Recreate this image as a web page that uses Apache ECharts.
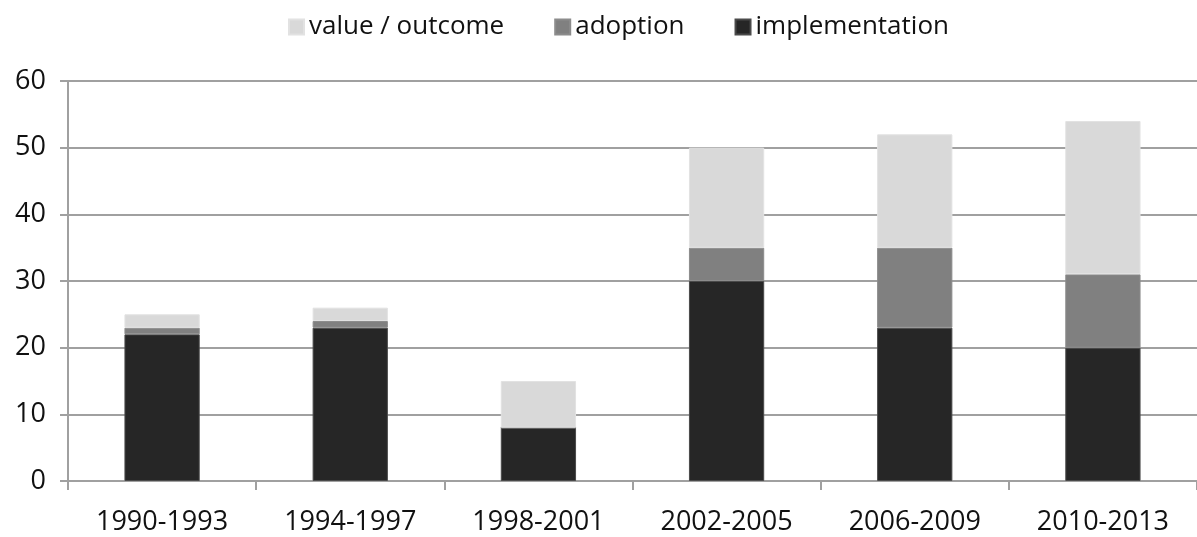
<!DOCTYPE html>
<html>
<head>
<meta charset="utf-8">
<script src="https://cdn.jsdelivr.net/npm/echarts@6/dist/echarts.min.js"></script>
<style>
html,body{margin:0;padding:0;background:#fff;}
#chart{width:1197px;height:537px;}
</style>
</head>
<body>
<div id="chart"></div>
<script>
const categories = ['1990-1993','1994-1997','1998-2001','2002-2005','2006-2009','2010-2013'];
const implementation = [22, 23, 8, 30, 23, 20];
const adoption = [1, 1, 0, 5, 12, 11];
const valueOutcome = [2, 2, 7, 15, 17, 23];
const yTicks = [0, 10, 20, 30, 40, 50, 60];

const FONT = '"Open Sans", "Noto Sans", sans-serif';
const chart = echarts.init(document.getElementById('chart'), null, {renderer: 'canvas'});
const axisGray = '#a0a0a0';
const textColor = '#111111';

function bar(name, data, color, border) {
  return {
    name: name,
    type: 'bar',
    stack: 'total',
    data: data,
    barWidth: '40%',
    itemStyle: {color: color, borderColor: border, borderWidth: 1},
    emphasis: {disabled: true}
  };
}

chart.setOption({
  animation: false,
  backgroundColor: '#ffffff',
  textStyle: {fontFamily: FONT},
  legend: {
    top: 9,
    left: 283,
    itemWidth: 15,
    itemHeight: 15,
    itemGap: 50,
    icon: 'rect',
    data: ['value / outcome', 'adoption', 'implementation'],
    textStyle: {fontFamily: FONT, fontSize: 26, color: textColor}
  },
  grid: {left: 68, right: -1, top: 81, bottom: 56, containLabel: false},
  xAxis: {
    type: 'category',
    data: categories,
    axisLine: {show: true, lineStyle: {color: axisGray, width: 2}},
    axisTick: {show: true, alignWithLabel: false, length: 9, lineStyle: {color: axisGray, width: 2}},
    axisLabel: {fontFamily: FONT, fontSize: 27, color: textColor, margin: 28, interval: 0},
    splitLine: {show: false}
  },
  yAxis: {
    type: 'value',
    min: yTicks[0],
    max: yTicks[yTicks.length - 1],
    interval: 10,
    axisLine: {show: true, lineStyle: {color: axisGray, width: 2}},
    axisTick: {show: true, length: 8, lineStyle: {color: axisGray, width: 2}},
    axisLabel: {fontFamily: FONT, fontSize: 27, color: textColor, margin: 22},
    splitLine: {show: true, lineStyle: {color: axisGray, width: 2}}
  },
  series: [
    bar('implementation', implementation, '#262626', '#4a4a4a'),
    bar('adoption', adoption, '#808080', '#8c8c8c'),
    bar('value / outcome', valueOutcome, '#d9d9d9', '#e2e2e2')
  ]
});
</script>
</body>
</html>
